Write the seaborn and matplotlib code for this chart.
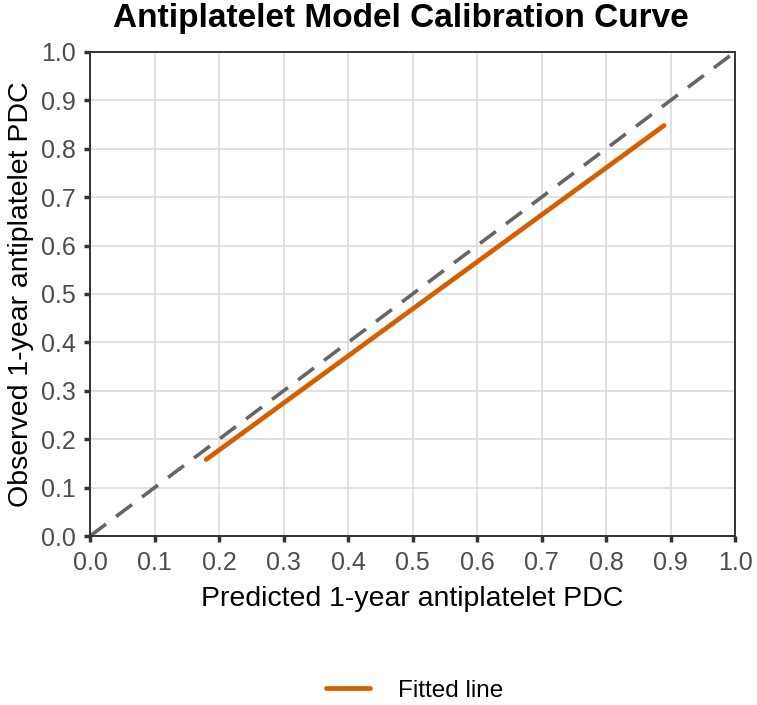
import numpy as np
import pandas as pd
import matplotlib.pyplot as plt
import seaborn as sns

# fitted calibration line (endpoints)
pred = [0.18, 0.89]
obs = [0.158, 0.848]
ref = [0.0, 1.0]
ticks = np.round(np.arange(0, 1.01, 0.1), 1)

sns.set_style("whitegrid")
plt.rcParams["font.family"] = ["Liberation Sans", "DejaVu Sans"]

fig = plt.figure(figsize=(7.57, 7.05), dpi=100)
ax = fig.add_axes([0.119, 0.2397, 0.852, 0.6866])

df = pd.DataFrame({"pred": pred, "obs": obs})
ax.plot(ref, ref, ls=(0, (5.5, 3.5)), color="#666666", lw=2.6, zorder=2)
sns.lineplot(data=df, x="pred", y="obs", color="#D55E00", lw=3.4,
             label="Fitted line", ax=ax, zorder=3)

ax.set_xlim(0, 1)
ax.set_ylim(0, 1)
ax.set_xticks(ticks)
ax.set_yticks(ticks)
ax.set_xticklabels([f"{t:.1f}" for t in ticks])
ax.set_yticklabels([f"{t:.1f}" for t in ticks])
ax.grid(True, color="#DEDEDE", lw=1.3)
for s in ax.spines.values():
    s.set_visible(True)
    s.set_color("#333333")
    s.set_linewidth(1.4)
ax.tick_params(axis="both", direction="out", length=4.5, width=2.5,
               color="#333333", labelcolor="#4D4D4D", labelsize=18,
               bottom=True, left=True, pad=6)

ax.set_xlabel("Predicted 1-year antiplatelet PDC", fontsize=20.5, color="black", labelpad=8)
ax.set_ylabel("Observed 1-year antiplatelet PDC", fontsize=20.5, color="black", labelpad=5)
fig.text(0.53, 0.962, "Antiplatelet Model Calibration Curve", fontsize=24,
         fontweight="bold", color="black", ha="center", va="baseline")

ax.get_legend().remove()
leg = fig.legend(*ax.get_legend_handles_labels(), loc="center", bbox_to_anchor=(0.548, 0.02),
                 frameon=False, fontsize=17.5, handlelength=1.8, handletextpad=1.15)
for t in leg.get_texts():
    t.set_color("black")

fig.savefig("out.png", dpi=100)
